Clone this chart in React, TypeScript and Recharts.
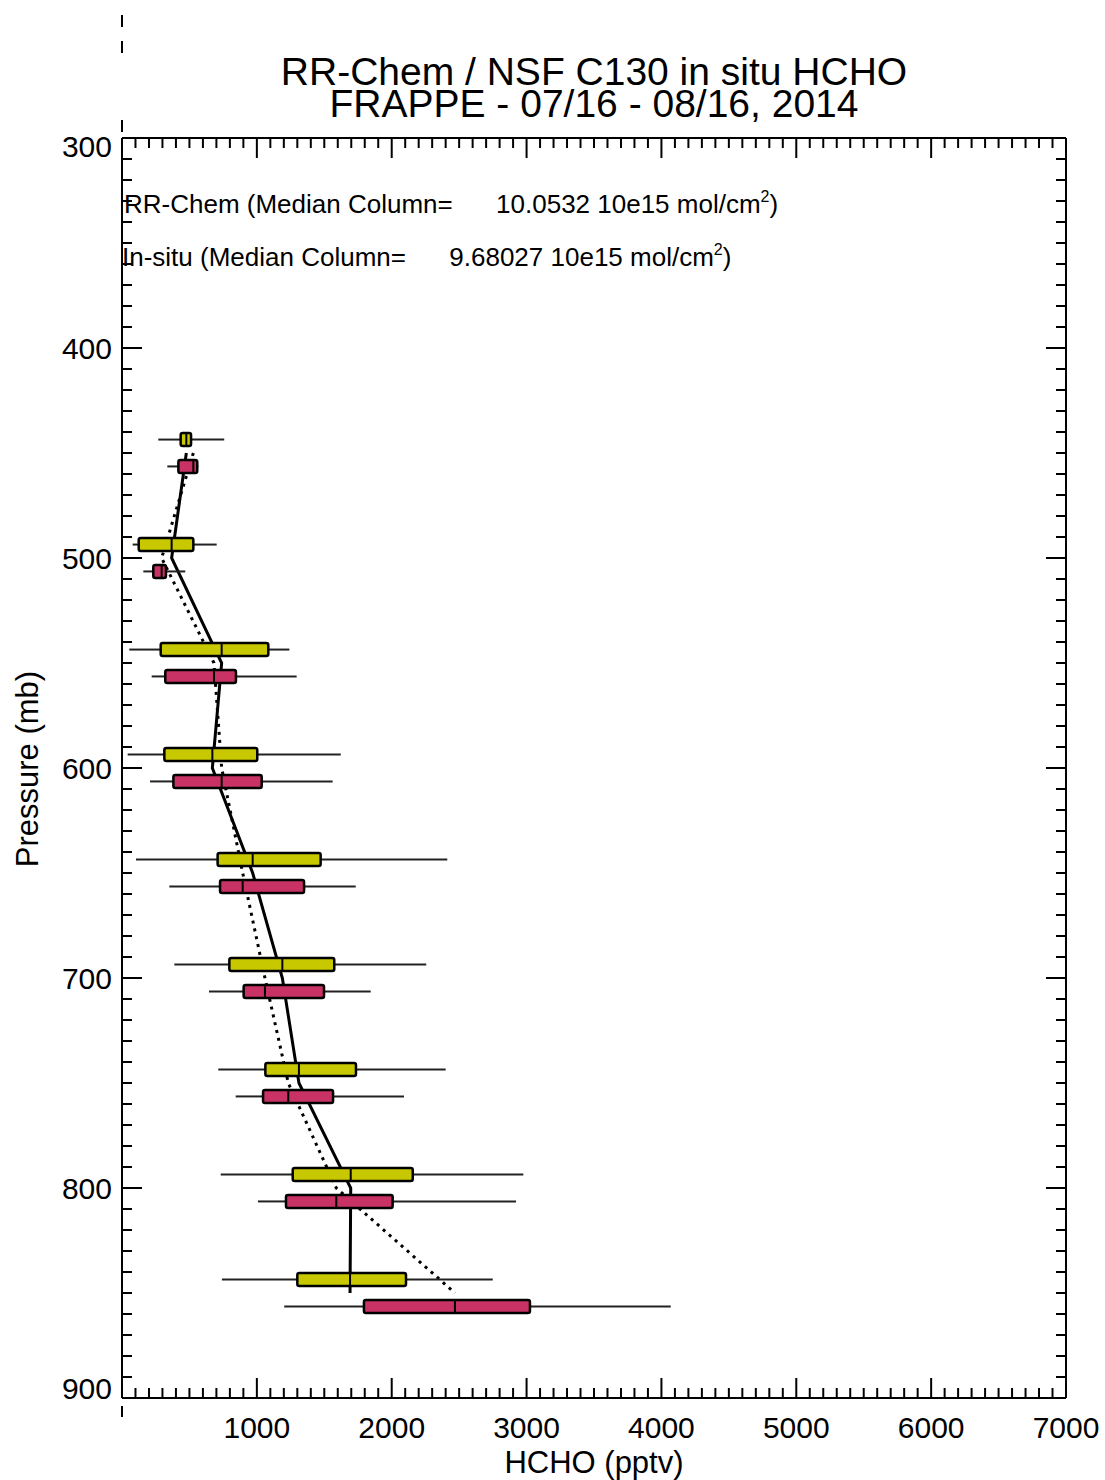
import React from "react";
import {
  ComposedChart,
  XAxis,
  YAxis,
  Scatter,
  ReferenceLine,
  ReferenceArea,
  Customized,
} from "recharts";

const FONT = "'Liberation Sans', Arial, Helvetica, sans-serif";

// pressure bins (mb)
const LEVELS = [450, 500, 550, 600, 650, 700, 750, 800, 850];

// RR-Chem model HCHO per bin (pptv): whisker low, Q1, median, Q3, whisker high
const MODEL_LOW = [269, 79, 54, 42, 104, 388, 714, 732, 741];
const MODEL_Q1 = [435, 124, 287, 314, 709, 796, 1063, 1266, 1300];
const MODEL_MED = [477, 368, 739, 670, 969, 1189, 1312, 1696, 1691];
const MODEL_Q3 = [512, 529, 1085, 1003, 1473, 1574, 1735, 2156, 2106];
const MODEL_HIGH = [758, 702, 1241, 1622, 2412, 2256, 2400, 2976, 2749];

// C130 in situ HCHO per bin (pptv)
const INSITU_LOW = [336, 158, 220, 208, 351, 645, 843, 1008, 1203];
const INSITU_Q1 = [418, 232, 321, 381, 727, 902, 1046, 1216, 1794];
const INSITU_MED = [529, 294, 682, 739, 895, 1060, 1233, 1589, 2469];
const INSITU_Q3 = [558, 326, 845, 1036, 1350, 1498, 1565, 2007, 3025];
const INSITU_HIGH = [566, 469, 1295, 1562, 1733, 1844, 2091, 2922, 4069];

const X_LABELS = [1000, 2000, 3000, 4000, 5000, 6000, 7000];
const Y_LABELS = [300, 400, 500, 600, 700, 800, 900];

// stray dashes along the left axis (mb)
const AXIS_DASHES: [number, number][] = [
  [241.4, 247.1],
  [253.8, 259.5],
  [291.4, 297.1],
  [903.8, 909.0],
];

const X_TICKS: number[] = [];
for (let v = 0; v <= 7000; v += 100) X_TICKS.push(v);
const Y_TICKS: number[] = [];
for (let v = 300; v <= 900; v += 10) Y_TICKS.push(v);

const YELLOW = "#c8c800";
const PINK = "#c83264";
const BOX_OFFSET = 6.4; // mb shift of each box from the bin centre
const BOX_HALF = 3.1; // mb half-height of a box

type Box = { p: number; lo: number; q1: number; med: number; q3: number; hi: number; fill: string };

const makeBoxes = (
  sign: number,
  lo: number[],
  q1: number[],
  med: number[],
  q3: number[],
  hi: number[],
  fill: string
): Box[] =>
  LEVELS.map((l, i) => ({
    p: l + sign * BOX_OFFSET,
    lo: lo[i],
    q1: q1[i],
    med: med[i],
    q3: q3[i],
    hi: hi[i],
    fill,
  }));

const BOXES: Box[] = [
  ...makeBoxes(-1, MODEL_LOW, MODEL_Q1, MODEL_MED, MODEL_Q3, MODEL_HIGH, YELLOW),
  ...makeBoxes(1, INSITU_LOW, INSITU_Q1, INSITU_MED, INSITU_Q3, INSITU_HIGH, PINK),
];

const modelProfile = LEVELS.map((p, i) => ({ x: MODEL_MED[i], y: p }));
const insituProfile = LEVELS.map((p, i) => ({ x: INSITU_MED[i], y: p }));

const BottomTick = (props: any) => {
  const { x, y, payload } = props;
  const v = payload.value;
  const major = v % 1000 === 0;
  return (
    <g>
      <line x1={x} x2={x} y1={y} y2={y - (major ? 20 : 10)} stroke="#000" strokeWidth={2} />
      {major && X_LABELS.includes(v) && (
        <text x={x} y={y + 40} textAnchor="middle" fontSize={30} fontFamily={FONT} fill="#000">
          {v}
        </text>
      )}
    </g>
  );
};

const TopTick = (props: any) => {
  const { x, y, payload } = props;
  const major = payload.value % 1000 === 0;
  return <line x1={x} x2={x} y1={y} y2={y + (major ? 20 : 10)} stroke="#000" strokeWidth={2} />;
};

const LeftTick = (props: any) => {
  const { x, y, payload } = props;
  const v = payload.value;
  const major = v % 100 === 0;
  let dy = 11;
  if (v === 300) dy = 19;
  if (v === 900) dy = 1;
  return (
    <g>
      <line x1={x} x2={x + (major ? 20 : 10)} y1={y} y2={y} stroke="#000" strokeWidth={2} />
      {major && Y_LABELS.includes(v) && (
        <text x={x - 10} y={y + dy} textAnchor="end" fontSize={30} fontFamily={FONT} fill="#000">
          {v}
        </text>
      )}
    </g>
  );
};

const RightTick = (props: any) => {
  const { x, y, payload } = props;
  const major = payload.value % 100 === 0;
  return <line x1={x} x2={x - (major ? 20 : 10)} y1={y} y2={y} stroke="#000" strokeWidth={2} />;
};

const Texts = () => (
  <g fontFamily={FONT} fill="#000">
    <text x={594} y={85} textAnchor="middle" fontSize={39}>
      RR-Chem / NSF C130 in situ HCHO
    </text>
    <text x={594} y={117} textAnchor="middle" fontSize={39}>
      FRAPPE - 07/16 - 08/16, 2014
    </text>
    <text x={124} y={213} fontSize={26} style={{ whiteSpace: "pre" }}>
      {"RR-Chem (Median Column=      10.0532 10e15 mol/cm"}
      <tspan fontSize={16} dy={-11}>2</tspan>
      <tspan dy={11}>)</tspan>
    </text>
    <text x={122} y={266} fontSize={26} style={{ whiteSpace: "pre" }}>
      {"In-situ (Median Column=      9.68027 10e15 mol/cm"}
      <tspan fontSize={16} dy={-11}>2</tspan>
      <tspan dy={11}>)</tspan>
    </text>
    <text x={594} y={1473} textAnchor="middle" fontSize={31}>
      HCHO (pptv)
    </text>
    <text x={38} y={769} textAnchor="middle" fontSize={31} transform="rotate(-90, 38, 769)">
      Pressure (mb)
    </text>
  </g>
);

const noDot = () => <g />;

const axisStroke = { stroke: "#000", strokeWidth: 2 };

export default function App() {
  return (
    <div style={{ position: "absolute", left: 0, top: 0, background: "#fff" }}>
      <ComposedChart
        width={1105}
        height={1480}
        margin={{ top: 137, right: 38, bottom: 81, left: 121 }}
      >
        <XAxis
          type="number"
          dataKey="x"
          domain={[0, 7000]}
          ticks={X_TICKS}
          interval={0}
          height={1}
          tickSize={0}
          tickMargin={0}
          tickLine={false}
          tick={<BottomTick />}
          axisLine={axisStroke}
          allowDataOverflow
        />
        <XAxis
          xAxisId="top"
          orientation="top"
          type="number"
          dataKey="x"
          domain={[0, 7000]}
          ticks={X_TICKS}
          interval={0}
          height={1}
          tickSize={0}
          tickMargin={0}
          tickLine={false}
          tick={<TopTick />}
          axisLine={axisStroke}
          allowDataOverflow
        />
        <YAxis
          type="number"
          dataKey="y"
          domain={[300, 900]}
          reversed
          ticks={Y_TICKS}
          interval={0}
          width={1}
          tickSize={0}
          tickMargin={0}
          tickLine={false}
          tick={<LeftTick />}
          axisLine={axisStroke}
          allowDataOverflow
        />
        <YAxis
          yAxisId="right"
          orientation="right"
          type="number"
          dataKey="y"
          domain={[300, 900]}
          reversed
          ticks={Y_TICKS}
          interval={0}
          width={1}
          tickSize={0}
          tickMargin={0}
          tickLine={false}
          tick={<RightTick />}
          axisLine={axisStroke}
          allowDataOverflow
        />

        {/* ties the top and right frame axes to the data */}
        <Scatter
          xAxisId="top"
          yAxisId="right"
          data={modelProfile}
          shape={noDot}
          isAnimationActive={false}
        />

        {/* median profiles */}
        <Scatter
          data={modelProfile}
          line={{ stroke: "#000", strokeWidth: 3 }}
          lineJointType="linear"
          shape={noDot}
          isAnimationActive={false}
          zIndex={10}
        />
        <Scatter
          data={insituProfile}
          line={{ stroke: "#000", strokeWidth: 3, strokeDasharray: "3 5" }}
          lineJointType="linear"
          shape={noDot}
          isAnimationActive={false}
          zIndex={10}
        />

        {/* whiskers */}
        {BOXES.map((b, i) => (
          <React.Fragment key={`w${i}`}>
            <ReferenceLine
              segment={[{ x: b.lo, y: b.p }, { x: b.q1, y: b.p }]}
              stroke="#222"
              strokeWidth={2}
              ifOverflow="visible"
              zIndex={20}
            />
            <ReferenceLine
              segment={[{ x: b.q3, y: b.p }, { x: b.hi, y: b.p }]}
              stroke="#222"
              strokeWidth={2}
              ifOverflow="visible"
              zIndex={20}
            />
          </React.Fragment>
        ))}

        {/* boxes */}
        {BOXES.map((b, i) => (
          <ReferenceArea
            key={`b${i}`}
            x1={b.q1}
            x2={b.q3}
            y1={b.p - BOX_HALF}
            y2={b.p + BOX_HALF}
            fill={b.fill}
            fillOpacity={1}
            stroke="#000"
            strokeWidth={2.5}
            radius={2}
            ifOverflow="visible"
            zIndex={30}
          />
        ))}

        {/* medians */}
        {BOXES.map((b, i) => (
          <ReferenceLine
            key={`m${i}`}
            segment={[{ x: b.med, y: b.p - BOX_HALF }, { x: b.med, y: b.p + BOX_HALF }]}
            stroke="#000"
            strokeWidth={2}
            ifOverflow="visible"
            zIndex={40}
          />
        ))}

        {AXIS_DASHES.map(([a, b], i) => (
          <ReferenceLine
            key={`d${i}`}
            segment={[{ x: 0, y: a }, { x: 0, y: b }]}
            stroke="#000"
            strokeWidth={2}
            ifOverflow="visible"
          />
        ))}

        <Customized component={Texts} />
      </ComposedChart>
    </div>
  );
}
